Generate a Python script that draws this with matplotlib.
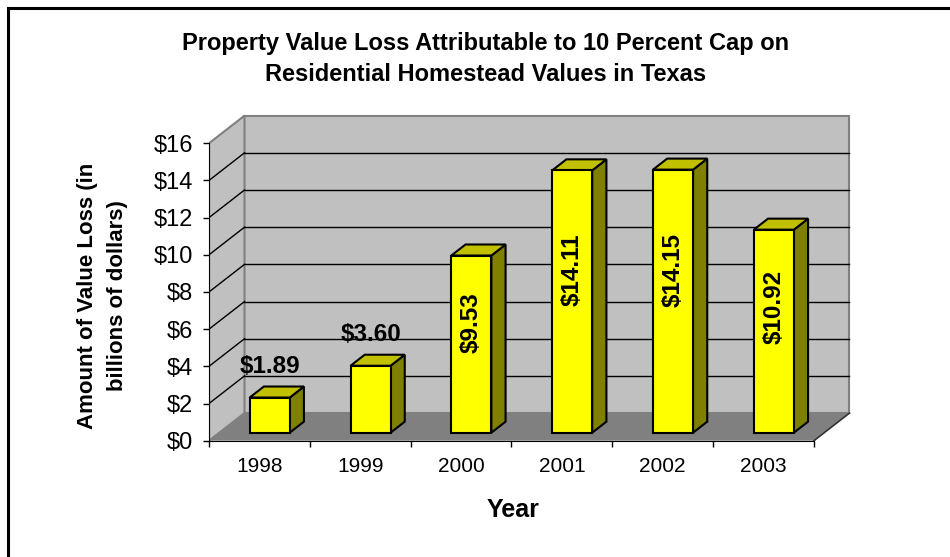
import matplotlib
matplotlib.use("Agg")
import matplotlib.pyplot as plt
from matplotlib.patches import Polygon, Rectangle
import numpy as np

plt.rcParams["font.family"] = ["Liberation Sans", "DejaVu Sans"]

# Data
years = ["1998", "1999", "2000", "2001", "2002", "2003"]
loss = [1.89, 3.60, 9.53, 14.11, 14.15, 10.92]
labels = ["$1.89", "$3.60", "$9.53", "$14.11", "$14.15", "$10.92"]
yticks = np.arange(0, 17, 2)

# oblique "3-D" look in data units
DX, DY = 0.352, 1.485      # depth offset of back wall
F0, F1 = 0.29, 0.69        # bar front / back depth fraction
W = 0.397                  # bar width
WALL, FLOOR = "#C0C0C0", "#808080"
FRONT, TOP, SIDE = "#FFFF00", "#C0C000", "#808000"

fig = plt.figure(figsize=(9.5, 5.57), dpi=100)
ax = fig.add_axes([209 / 950, (557 - 440.7) / 557, 6.5 * 100.83 / 950, 17.8 * 18.59 / 557])
n = len(years)
ymax = 16
ax.set_xlim(0, 6.5)
ax.set_ylim(0, 17.8)

# walls and floor
ax.add_patch(Polygon([(DX, DY), (n + DX, DY), (n + DX, ymax + DY), (DX, ymax + DY)],
                     closed=True, fc=WALL, ec=FLOOR, lw=1.5, zorder=1))
ax.add_patch(Polygon([(0, 0), (DX, DY), (DX, ymax + DY), (0, ymax)],
                     closed=True, fc=WALL, ec=FLOOR, lw=1.5, zorder=1))
for v in yticks[1:-1]:
    ax.plot([DX, n + DX], [v + DY, v + DY], color="black", lw=1, zorder=2)
    ax.plot([0, DX], [v, v + DY], color="black", lw=1, zorder=2)
ax.add_patch(Polygon([(0, 0), (n, 0), (n + DX, DY), (DX, DY)],
                     closed=True, fc=FLOOR, ec="none", zorder=3))
ax.plot([n, n + DX], [0, DY], color="#333333", lw=1.2, zorder=3)

# bars
for i, v in enumerate(loss):
    x0 = i + 0.5 - W / 2 + F0 * DX
    y0 = F0 * DY
    ddx, ddy = (F1 - F0) * DX, (F1 - F0) * DY
    front = [(x0, y0), (x0 + W, y0), (x0 + W, y0 + v), (x0, y0 + v)]
    top = [(x0, y0 + v), (x0 + W, y0 + v), (x0 + W + ddx, y0 + v + ddy), (x0 + ddx, y0 + v + ddy)]
    side = [(x0 + W, y0), (x0 + W + ddx, y0 + ddy), (x0 + W + ddx, y0 + v + ddy), (x0 + W, y0 + v)]
    for pts, c in ((side, SIDE), (top, TOP), (front, FRONT)):
        ax.add_patch(Polygon(pts, closed=True, fc=c, ec="black", lw=1.5, zorder=4))
    xc = x0 + W / 2
    if v < 5:
        ax.annotate(labels[i], (xc, y0 + v + ddy), textcoords="offset points", xytext=(0, 6),
                    ha="center", va="bottom", fontsize=17.5, fontweight="bold", zorder=5)
    else:
        ax.text(xc, y0 + 0.62 * v, labels[i], rotation=90, ha="center", va="center",
                fontsize=17.5, fontweight="bold", zorder=5)

# axes
for s in ("top", "right"):
    ax.spines[s].set_visible(False)
ax.spines["left"].set_bounds(0, ymax)
ax.spines["bottom"].set_bounds(0, n)
ax.spines["left"].set_zorder(6)
ax.spines["bottom"].set_zorder(6)
ax.set_yticks(yticks)
ax.set_yticklabels([f"${v}" for v in yticks])
ax.tick_params(axis="y", direction="out", length=4.5, width=1, pad=7, labelsize=17)
ax.set_xticks(np.arange(n + 1))
ax.set_xticklabels([])
ax.set_xticks(np.arange(n) + 0.5, minor=True)
ax.set_xticklabels(years, minor=True)
ax.tick_params(axis="x", which="major", direction="out", length=4.5, width=1)
ax.tick_params(axis="x", which="minor", length=0, pad=12, labelsize=15)

fig.text(485.5 / 950, 1 - 59 / 557,
         "Property Value Loss Attributable to 10 Percent Cap on\nResidential Homestead Values in Texas",
         ha="center", va="center", fontsize=17, fontweight="bold", linespacing=1.45)
fig.text(102.5 / 950, 1 - 296 / 557, "Amount of Value Loss (in\nbillions of dollars)",
         rotation=90, ha="center", va="center", fontsize=16, fontweight="bold", linespacing=1.5)
fig.text(513 / 950, 1 - 510 / 557, "Year", ha="center", va="center",
         fontsize=18, fontweight="bold")

# chart frame
fig.add_artist(Rectangle((8 / 950, -0.1), 1.2, 1.1 - 7.5 / 557, transform=fig.transFigure,
                         fill=False, ec="black", lw=2.2, clip_on=False))

fig.savefig("out.png", dpi=100)
